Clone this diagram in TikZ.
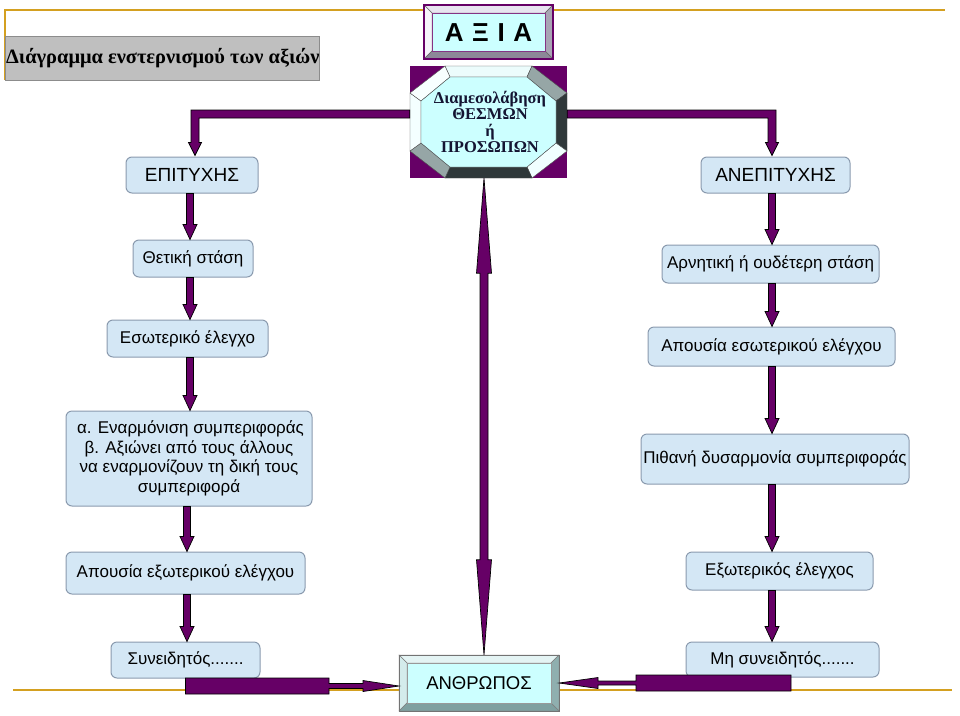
\documentclass[tikz,border=0pt]{standalone}
\usepackage{fontspec}
\setmainfont{Liberation Sans}
\newfontfamily\timesf{Liberation Serif}
\usetikzlibrary{calc}
\definecolor{pur}{HTML}{660066}
\definecolor{gold}{HTML}{D4A020}
\definecolor{boxfill}{HTML}{D4E7F5}
\definecolor{boxline}{HTML}{8A9AAE}
\definecolor{cyanfill}{HTML}{CCFFFF}
\tikzset{
  pbox/.style={rounded corners=6pt, draw=boxline, fill=boxfill, line width=1pt,
    font=\fontsize{17}{19.5}\selectfont, align=center, inner sep=0pt},
  capsfont/.style={font=\fontsize{19}{22}\selectfont},
  arrowfill/.style={fill=pur, draw=black, line width=0.7pt, line join=miter},
  goldline/.style={draw=gold, line width=2pt},
  bevel/.style={draw=black!70, line width=0.4pt},
}
\newcommand\vconn[3]{%
  \path[arrowfill] let \p1=(#1.south), \p2=(#2.north), \p3=(#3) in
    ({\x3-3.5pt},\y1) -- ({\x3-3.5pt},{\y2+15pt}) -- ({\x3-7pt},{\y2+15pt}) --
    (\x3,\y2) -- ({\x3+7pt},{\y2+15pt}) -- ({\x3+3.5pt},{\y2+15pt}) --
    ({\x3+3.5pt},\y1) -- cycle;}
\begin{document}
\begin{tikzpicture}[x=1pt,y=-1pt]
\useasboundingbox (0,0) rectangle (960,715);
% gold lines
\draw[goldline] (5,80) -- (5,10) -- (945,10);
\draw[goldline] (13,689.5) -- (952,689.5);
% title
\node[draw=black!45, fill=black!25, line width=0.8pt, minimum width=314pt, minimum height=44pt, inner sep=0pt] (title) at (162,58) {};
\node[anchor=west, inner sep=0pt, font=\timesf\bfseries\fontsize{20.4}{23}\selectfont] (titletext) at (6,58) {Διάγραμμα ενστερνισμού των αξιών};
% AXIA beveled box
\fill[fill={rgb,255:red,232;green,228;blue,240}, draw=black!60, line width=0.4pt] (424,5) -- (553,5) -- (545,13) -- (432,13) -- cycle;
\fill[fill={rgb,255:red,246;green,244;blue,250}, draw=black!60, line width=0.4pt] (424,5) -- (432,13) -- (432,51) -- (424,59) -- cycle;
\fill[fill={rgb,255:red,168;green,164;blue,180}, draw=black!60, line width=0.4pt] (553,5) -- (553,59) -- (545,51) -- (545,13) -- cycle;
\fill[fill={rgb,255:red,140;green,136;blue,152}, draw=black!60, line width=0.4pt] (424,59) -- (432,51) -- (545,51) -- (553,59) -- cycle;
\filldraw[fill=cyanfill, draw=pur!80, line width=0.6pt] (432,13) rectangle (545,51);
\draw[pur, line width=1.2pt] (424,5) rectangle (553,59);
\node[font=\bfseries\fontsize{26}{30}\selectfont, inner sep=0pt] (axia) at (488.5,33) {Α\,\,Ξ\,\,Ι\,\,Α};
% octagon
\fill[pur] (410,66) rectangle (567,178);
\filldraw[bevel, fill={rgb,255:red,236;green,252;blue,252}] (445,66) -- (532,66) -- (527,77) -- (450,77) -- cycle;
\filldraw[bevel, fill={rgb,255:red,150;green,166;blue,166}] (532,66) -- (567,93) -- (556,101) -- (527,77) -- cycle;
\filldraw[bevel, fill={rgb,255:red,47;green,56;blue,58}] (567,93) -- (567,151) -- (556,143) -- (556,101) -- cycle;
\filldraw[bevel, fill={rgb,255:red,240;green,255;blue,255}] (567,151) -- (532,178) -- (527,167) -- (556,143) -- cycle;
\filldraw[bevel, fill={rgb,255:red,47;green,56;blue,58}] (532,178) -- (445,178) -- (450,167) -- (527,167) -- cycle;
\filldraw[bevel, fill={rgb,255:red,150;green,166;blue,166}] (445,178) -- (410,151) -- (421,143) -- (450,167) -- cycle;
\filldraw[bevel, fill={rgb,255:red,244;green,255;blue,255}] (410,151) -- (410,93) -- (421,101) -- (421,143) -- cycle;
\filldraw[bevel, fill={rgb,255:red,248;green,255;blue,255}] (410,93) -- (445,66) -- (450,77) -- (421,101) -- cycle;
\filldraw[bevel, fill=cyanfill] (450,77) -- (527,77) -- (556,101) -- (556,143) -- (527,167) -- (450,167) -- (421,143) -- (421,101) -- cycle;
\node[minimum width=157pt, minimum height=112pt, inner sep=0pt] (oct) at (488.5,122) {};
\node[font=\timesf\bfseries\fontsize{16.5}{16.5}\selectfont, align=center, inner sep=0pt, text={rgb,255:red,20;green,20;blue,50}] (octtext) at (490,122) {Διαμεσολάβηση\\ΘΕΣΜΩΝ\\ή\\ΠΡΟΣΩΠΩΝ};
% ANTHROPOS beveled box
\fill[fill={rgb,255:red,228;green,244;blue,244}, draw=black!50, line width=0.4pt] (399,655) -- (559,655) -- (551,663) -- (407,663) -- cycle;
\fill[fill={rgb,255:red,212;green,236;blue,236}, draw=black!50, line width=0.4pt] (399,655) -- (407,663) -- (407,703) -- (399,711) -- cycle;
\fill[fill={rgb,255:red,143;green,175;blue,175}, draw=black!50, line width=0.4pt] (559,655) -- (559,711) -- (551,703) -- (551,663) -- cycle;
\fill[fill={rgb,255:red,127;green,160;blue,160}, draw=black!50, line width=0.4pt] (399,711) -- (407,703) -- (551,703) -- (559,711) -- cycle;
\filldraw[fill=cyanfill, draw=black!40, line width=0.5pt] (407,663) rectangle (551,703);
\draw[black!55, line width=0.8pt] (399,655) rectangle (559,711);
\node[minimum width=160pt, minimum height=56pt, inner sep=0pt, font=\fontsize{18.5}{21}\selectfont] (anth) at (479,683) {ΑΝΘΡΩΠΟΣ};
% boxes
\node[pbox, capsfont, minimum width=132pt, minimum height=36pt] (epit) at (192,175) {ΕΠΙΤΥΧΗΣ};
\node[pbox, capsfont, minimum width=149pt, minimum height=36pt] (anep) at (775.5,175) {ΑΝΕΠΙΤΥΧΗΣ};
\node[pbox, minimum width=120pt, minimum height=37pt] (thet) at (193,258.5) {Θετική στάση};
\node[pbox, minimum width=217pt, minimum height=38pt] (arn) at (770.5,264) {Αρνητική ή ουδέτερη στάση};
\node[pbox, minimum width=161pt, minimum height=37pt] (eso) at (187.5,338.5) {Εσωτερικό έλεγχο};
\node[pbox, minimum width=247pt, minimum height=39pt] (apes) at (771.5,346.5) {Απουσία εσωτερικού ελέγχου};
\node[pbox, minimum width=246pt, minimum height=95pt] (enar) at (189,458.5) {\hspace*{3pt}α. Εναρμόνιση συμπεριφοράς\\β. Αξιώνει από τους άλλους\\να εναρμονίζουν τη δική τους\\συμπεριφορά};
\node[pbox, minimum width=268pt, minimum height=50pt] (pith) at (775,459) {Πιθανή δυσαρμονία συμπεριφοράς};
\node[pbox, minimum width=239pt, minimum height=42pt] (apex) at (185.5,573) {Απουσία εξωτερικού ελέγχου};
\node[pbox, minimum width=187pt, minimum height=38pt] (exo) at (779.5,571) {Εξωτερικός έλεγχος};
\node[pbox, minimum width=149pt, minimum height=36pt] (syn) at (185.5,660) {Συνειδητός.......};
\node[pbox, minimum width=193pt, minimum height=35pt] (mhsyn) at (782.5,659.5) {Μη συνειδητός.......};
% column coordinates
\coordinate (colTL) at (195,0);
\coordinate (colTR) at (772,0);
\coordinate (colL) at (190,0);
\coordinate (colL2) at (187,0);
\coordinate (colR) at (772,0);
\coordinate (cx) at (484,0);
% L connectors from octagon
\path[arrowfill] let \p1=($(oct.west)+(0,-8)$), \p2=(epit.north), \p3=(colTL) in
  (\x1,{\y1+4pt}) -- ({\x3-4pt},{\y1+4pt}) -- ({\x3-4pt},{\y2+14pt}) -- ({\x3-6.5pt},{\y2+14pt}) --
  ({\x3},{\y2+1pt}) -- ({\x3+6.5pt},{\y2+14pt}) -- ({\x3+4pt},{\y2+14pt}) -- ({\x3+4pt},{\y1-4pt}) --
  (\x1,{\y1-4pt}) -- cycle;
\path[arrowfill] let \p1=($(oct.east)+(0,-8)$), \p2=(anep.north), \p3=(colTR) in
  (\x1,{\y1+4pt}) -- ({\x3+4pt},{\y1+4pt}) -- ({\x3+4pt},{\y2+14pt}) -- ({\x3+6.5pt},{\y2+14pt}) --
  ({\x3},{\y2+1pt}) -- ({\x3-6.5pt},{\y2+14pt}) -- ({\x3-4pt},{\y2+14pt}) -- ({\x3-4pt},{\y1-4pt}) --
  (\x1,{\y1-4pt}) -- cycle;
% vertical column connectors
\vconn{epit}{thet}{colL}
\vconn{thet}{eso}{colL}
\vconn{eso}{enar}{colL}
\vconn{enar}{apex}{colL2}
\vconn{apex}{syn}{colL2}
\vconn{anep}{arn}{colR}
\vconn{arn}{apes}{colR}
\vconn{apes}{pith}{colR}
\vconn{pith}{exo}{colR}
\vconn{exo}{mhsyn}{colR}
% central double arrow
\path[arrowfill] let \p1=(oct.south), \p2=(anth.north), \p3=(cx) in
  (\x3,\y1) -- ({\x3+7.5pt},{\y1-95pt}) -- ({\x3+4pt},{\y1-95pt}) -- ({\x3+4pt},{\y2+95pt}) --
  ({\x3+7.5pt},{\y2+95pt}) -- (\x3,\y2) -- ({\x3-7.5pt},{\y2+95pt}) -- ({\x3-4pt},{\y2+95pt}) --
  ({\x3-4pt},{\y1-95pt}) -- ({\x3-7.5pt},{\y1-95pt}) -- cycle;
% bottom block arrows
\path[arrowfill] let \p1=(syn.south), \p2=(anth.west) in
  (\x1,-678pt) -- (329pt,-678pt) -- (329pt,-683.5pt) -- (363pt,-683.5pt) -- (363pt,-680.5pt) --
  (\x2,-686pt) -- (363pt,-691.5pt) -- (363pt,-688.5pt) -- (329pt,-688.5pt) -- (329pt,-694pt) --
  (\x1,-694pt) -- cycle;
\path[arrowfill] let \p1=(mhsyn.south), \p2=(anth.east) in
  (791pt,-675pt) -- (636pt,-675pt) -- (636pt,-681pt) -- (598pt,-681pt) -- (598pt,-677.5pt) --
  (\x2,-683pt) -- (598pt,-688.5pt) -- (598pt,-685pt) -- (636pt,-685pt) -- (636pt,-691pt) --
  (791pt,-691pt) -- cycle;
\end{tikzpicture}
\end{document}
